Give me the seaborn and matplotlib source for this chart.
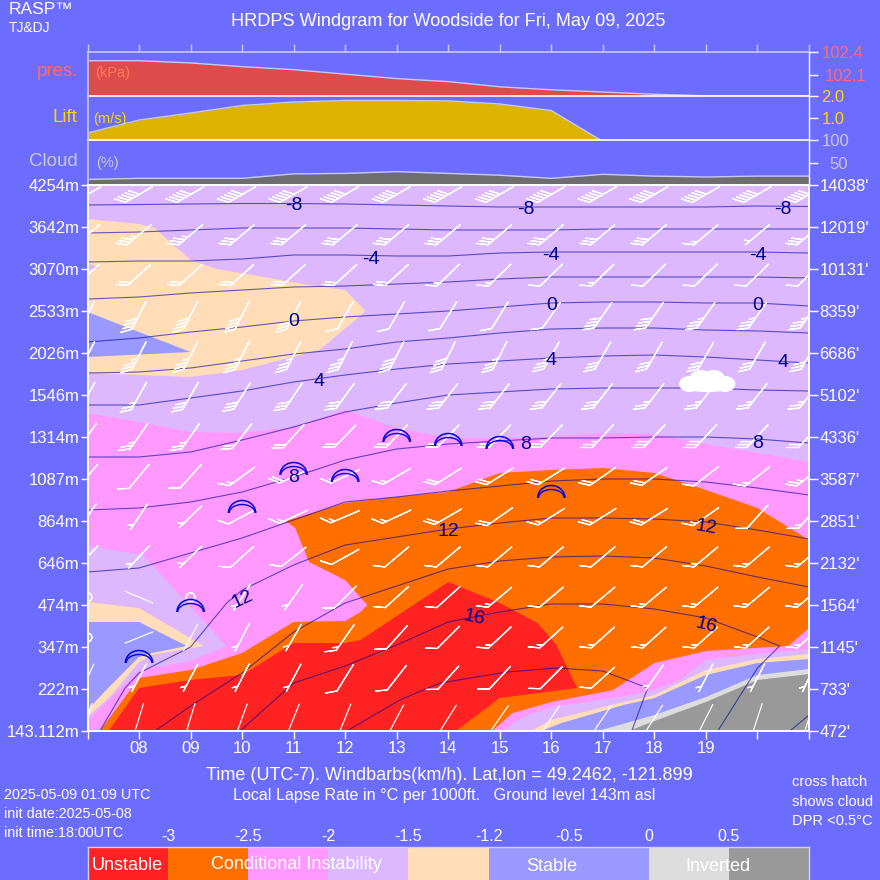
import numpy as np
import matplotlib
matplotlib.use('Agg')
import matplotlib.pyplot as plt
from matplotlib.colors import ListedColormap
from matplotlib.patches import Arc, Ellipse
import seaborn as sns

# Time axis
hours = [7, 8, 9, 10, 11, 12, 13, 14, 15, 16, 17, 18, 19, 20, 21]
hour_labels = ['', '08', '09', '10', '11', '12', '13', '14', '15', '16', '17', '18', '19', '', '']

# Height scale, one tick every 42 units
height_labels_m = ['143.112m', '222m', '347m', '474m', '646m', '864m', '1087m', '1314m',
                   '1546m', '2026m', '2533m', '3070m', '3642m', '4254m']
height_labels_ft = ["472'", "733'", "1145'", "1564'", "2132'", "2851'", "3587'", "4336'",
                    "5102'", "6686'", "8359'", "10131'", "12019'", "14038'"]

# Top strips
pressure = [102.29, 102.29, 102.26, 102.21, 102.17, 102.11, 102.05, 102.01,
            101.94, 101.90, 101.87, 101.84, 101.82, 101.82, 101.82]
lift_hours = [7, 8, 9, 10, 11, 12, 13, 14, 15, 16, 16.97, 21]
lift = [0.34, 0.93, 1.25, 1.59, 1.75, 1.82, 1.82, 1.80, 1.66, 1.36, 0, 0]
cloud = [12.5, 15, 15, 15, 25, 26, 30, 26, 22, 15, 24, 20, 18, 20, 20]

# Lapse rate regions (hour, level), painted back to front
pink_h = [7, 8, 9, 10, 11, 12, 13, 14, 15, 16, 17, 18, 19, 20, 21, 21, 7]
pink_l = [318, 309, 299, 298, 304, 321, 303, 293, 293, 294, 298, 297, 287, 278, 269, 0, 0]
peach_top_h = [7, 8, 8.3, 9, 9.5, 10.2, 11.3, 12, 12.4, 11.5, 10, 9, 7]
peach_top_l = [512, 507, 503, 471, 462, 456, 446, 441, 420, 381, 361, 354, 358]
blue_top_h = [7, 9, 7]
blue_top_l = [419, 379, 374]
sliver_h = [7, 7.25, 7]
sliver_l = [468, 463, 461]
lav_left_h = [7, 8.07, 9.7, 9, 8, 7.55, 7]
lav_left_l = [185, 176, 85, 70, 61, 38, 10]
peach_left_h = [7, 8, 9.25, 8.25, 8, 7.45, 7]
peach_left_l = [129, 123, 85, 76, 69, 35, 14]
blue_left_h = [7, 8, 8.93, 8.25, 8, 7.4, 7]
blue_left_l = [109, 109, 85, 78, 74, 43, 21]
lav_right_h = [15.05, 15.45, 16, 17.35, 18, 18.5, 19, 20, 21, 21]
lav_right_l = [0, 14, 24, 34, 41, 51, 71, 77, 82, 0]
peach_right_h = [15.6, 16, 17.4, 18, 19, 20, 21, 21]
peach_right_l = [0, 11, 29, 36, 61, 72, 77, 0]
blue_right_h = [15.8, 16.2, 17.4, 18, 19, 20, 21, 21]
blue_right_l = [0, 8, 26, 33, 56, 68, 72, 0]
lgrey_h = [16.9, 18, 19, 20, 21, 21]
lgrey_l = [0, 16, 34, 56, 62, 0]
grey_h = [17.5, 18, 19, 20, 21, 21]
grey_l = [0, 10, 29, 51, 57, 0]
orange_h = [7.24, 8, 9, 10, 11, 12, 12.3, 12.43, 12, 11.3, 11.03, 10.85, 12, 13, 14, 15, 16, 17, 18, 19, 20, 21,
            21, 20.6, 19, 18, 17.2, 16, 15.25, 14.85]
orange_l = [0, 53, 61, 78, 109, 110, 119, 126, 151, 169, 203, 210, 228, 234, 239, 258, 261, 263, 258, 241, 223, 191,
            103, 85, 80, 68, 41, 29, 18, 0]
red_h = [7.41, 8, 9, 10, 11, 12, 12.3, 14, 15, 15.73, 16.1, 16.5, 15, 14.15]
red_l = [0, 43, 51, 56, 88, 88, 91, 149, 128, 108, 86, 43, 33, 0]

# Temperature isotherms, every 2 degrees
iso_hours = hours
iso_m8 = [526, 526.5, 527, 527.5, 527.5, 527, 526, 525, 524, 524, 524, 524, 524, 525, 524.5]
iso_m6 = [498, 499, 501, 503, 503, 503, 502, 501, 501, 501, 502, 502, 502, 502, 502]
iso_m4 = [469, 470, 470, 472, 476, 476, 475, 475, 478, 479, 479, 479, 479, 479, 478]
iso_m2 = [432, 434, 438, 441, 444, 445, 447, 449, 452, 454, 454, 454, 454, 454, 453]
iso_0 = [389, 393, 399, 404, 410, 414, 417, 420, 424, 428, 429, 429, 428, 428, 425]
iso_2 = [358, 359, 363, 370, 377, 382, 389, 393, 398, 402, 403, 403, 401, 400, 398]
iso_4 = [326, 326, 333, 340, 349, 356, 362, 367, 370, 373, 375, 376, 374, 371, 368]
iso_6 = [274, 274, 279, 291, 304, 319, 328, 336, 339, 342, 343, 343, 343, 341, 340]
iso_8 = [221, 223, 229, 239, 254, 271, 282, 287, 290, 293, 293, 294, 294, 292, 288]
iso_10 = [159, 163, 178, 193, 211, 229, 234, 240, 245, 250, 252, 252, 249, 243, 236]
iso_12_h = [7.24, 7.73, 8, 9, 9.7, 10, 11, 12, 13, 14, 15, 16, 17, 18, 19, 20, 21]
iso_12 = [0, 43, 58, 84, 128, 141, 166, 186, 194, 202, 208, 213, 213, 212, 209, 201, 192]
iso_14_h = [8.31, 9, 10, 11, 12, 13, 14, 15, 16, 17, 18, 19, 20, 21]
iso_14 = [0, 25, 58, 99, 128, 145, 162, 170, 174, 175, 173, 165, 154, 144]
iso_16_h = [9.96, 11, 12, 13, 14, 15, 16, 17, 18, 19, 20, 20.43, 20, 19.23]
iso_16 = [0, 48, 65, 86, 109, 119, 127, 127, 122, 113, 94, 85, 63, 0]
iso_18_h = [12.03, 13.06, 13.84, 15.14, 16.1, 17, 17.87, 17.56]
iso_18 = [0, 31, 48, 59, 63, 60, 43, 0]
iso_20_h = [20.63, 21]
iso_20 = [0, 16]

iso_label_text = ['-8', '-8', '-8', '-4', '-4', '-4', '0', '0', '0', '4', '4', '4',
                  '8', '8', '8', '12', '12', '12', '16', '16']
iso_label_h = [11, 15.5, 20.5, 12.5, 16, 20, 11, 16, 20, 11.5, 16, 20.5,
               11, 15.5, 20, 10, 14, 19, 14.5, 19]
iso_label_l = [525, 522, 522, 472, 475, 475, 409, 426, 426, 350, 371, 369,
               254, 287, 288, 132, 199, 204, 113, 106]
iso_label_rot = [0, 0, 0, 0, 0, 0, 0, 0, 0, 0, 0, 0, 0, 0, 0, 25, 0, -10, -12, -15]

# Thermal symbols
thermal_h = [8, 9, 10, 11, 12, 13, 14, 15, 16]
thermal_l = [68, 119, 218, 256, 249, 289, 285, 282, 233]

# Wind, rows from top to bottom, km/h (2 = staff only, 0 = calm)
speed = [
    [50, 50, 50, 50, 50, 50, 50, 50, 50, 50, 50, 50, 50, 50, 50],
    [40, 35, 35, 30, 30, 30, 30, 30, 30, 30, 30, 30, 15, 5, 30],
    [20, 20, 20, 20, 20, 20, 20, 15, 15, 10, 15, 10, 10, 10, 10],
    [40, 40, 40, 40, 30, 10, 10, 10, 10, 10, 40, 40, 35, 35, 35],
    [35, 35, 35, 35, 35, 35, 40, 40, 35, 35, 30, 30, 30, 30, 30],
    [30, 25, 30, 30, 30, 30, 30, 30, 30, 30, 30, 25, 25, 25, 25],
    [25, 25, 25, 20, 20, 20, 20, 20, 25, 25, 25, 30, 30, 30, 20],
    [10, 10, 10, 15, 20, 15, 15, 20, 20, 20, 20, 20, 10, 15, 25],
    [5, 5, 5, 10, 15, 15, 15, 20, 20, 15, 20, 20, 15, 10, 15],
    [5, 5, 5, 10, 10, 10, 10, 10, 10, 10, 10, 10, 15, 15, 15],
    [0, 2, 0, 5, 5, 10, 10, 10, 15, 10, 10, 15, 15, 15, 15],
    [0, 2, 2, 5, 5, 15, 10, 10, 15, 15, 15, 15, 15, 15, 15],
    [2, 5, 5, 5, 5, 10, 10, 10, 10, 10, 10, 5, 5, 5, 5],
    [2, 2, 2, 2, 2, 2, 2, 2, 2, 2, 2, 2, 2, 2, 2],
]
direction = [
    [240, 240, 240, 240, 240, 240, 240, 240, 240, 240, 240, 240, 240, 240, 240],
    [230, 230, 230, 230, 230, 230, 230, 230, 230, 230, 230, 230, 230, 230, 230],
    [228, 228, 228, 228, 228, 228, 228, 226, 226, 226, 226, 226, 226, 226, 226],
    [207, 207, 207, 207, 207, 210, 210, 212, 212, 215, 215, 215, 215, 215, 215],
    [207, 207, 207, 207, 207, 207, 207, 207, 207, 210, 210, 210, 210, 210, 210],
    [209, 209, 210, 212, 214, 216, 218, 218, 218, 218, 218, 218, 218, 218, 218],
    [215, 215, 215, 218, 222, 224, 224, 224, 224, 224, 223, 223, 223, 223, 223],
    [220, 220, 222, 234, 245, 245, 240, 238, 238, 238, 235, 235, 232, 232, 232],
    [214, 214, 226, 242, 245, 247, 245, 240, 235, 238, 238, 238, 235, 222, 222],
    [223, 223, 226, 228, 232, 241, 230, 230, 230, 230, 230, 230, 230, 230, 230],
    [212, 113, 212, 212, 215, 225, 228, 228, 230, 230, 230, 230, 230, 230, 230],
    [205, 248, 208, 207, 210, 215, 222, 225, 227, 228, 228, 228, 228, 228, 228],
    [205, 208, 208, 207, 208, 212, 218, 222, 223, 225, 228, 215, 207, 207, 205],
    [197, 197, 197, 200, 202, 202, 208, 212, 215, 213, 214, 213, 207, 198, 198],
]

# Legend strip
legend_ticks = ['-3', '-2.5', '-2', '-1.5', '-1.2', '-0.5', '0', '0.5']
legend_classes = [0, 1, 2, 3, 4, 5, 5, 6, 7]

BG = '#6C6CFF'
RED, ORANGE, PINK, LAV = '#FF2222', '#FF6F00', '#FF99FF', '#DDB8FF'
PEACH, BLUE, LGREY, GREY = '#FFDDB8', '#9999FF', '#DDDDDD', '#999999'
SALMON, GOLD, SILVER = '#FF6B6B', '#FFD700', '#C8C8C8'
EDGE = '#C8C8FF'
ISO = '#0000A0'
DARK = '#000090'

sns.set_theme(style='white')
plt.rcParams['font.family'] = ['Liberation Sans', 'DejaVu Sans']

fig = plt.figure(figsize=(8.8, 8.8), dpi=100, facecolor=BG)


def panel(top, bottom):
    # axes box from pixel rows
    return fig.add_axes([87.5 / 880, 1 - bottom / 880, 721.5 / 880, (bottom - top) / 880])


def ftext(x, y, s, **kw):
    kw.setdefault('color', 'white')
    kw.setdefault('va', 'center')
    fig.text(x / 880, 1 - y / 880, s, **kw)


ax_p = panel(52.5, 96.5)
ax_l = panel(96.5, 140.5)
ax_c = panel(140.5, 185)
ax = panel(185, 731)

strips = [(ax_p, hours, pressure, '#DD4B4B', (101.81, 102.4), [102.4, 102.1], ['102.4', '102.1'], SALMON),
          (ax_l, lift_hours, lift, '#DCB400', (0, 2), [2, 1], ['2.0', '1.0'], GOLD),
          (ax_c, hours, cloud, '#6E6E6E', (0, 100), [100, 50], ['100', '50'], SILVER)]
for a, xs, ys, col, lim, ticks, labels, tcol in strips:
    a.set_facecolor('none')
    a.fill_between(xs, lim[0], ys, color=col, lw=0)
    sns.lineplot(x=xs, y=ys, color=EDGE, lw=1, ax=a, estimator=None, sort=False)
    a.set_xlim(7, 21)
    a.set_ylim(*lim)
    a.set_xticks([])
    a.yaxis.tick_right()
    a.set_yticks(ticks)
    a.set_yticklabels(labels, color=tcol, fontsize=12)
    a.tick_params(axis='y', length=6.5, width=1, color='white', pad=2.5, left=False, right=True)
    a.set_xlabel('')
    a.set_ylabel('')
    for s in a.spines.values():
        s.set_visible(False)
    a.spines['left'].set_visible(True)
    a.spines['left'].set_color(EDGE)
    a.spines['left'].set_linewidth(1.2)
    a.spines['right'].set_visible(True)
    a.spines['right'].set_color('white')
    a.spines['right'].set_linewidth(1)
    a.spines['bottom'].set_visible(True)
    a.spines['bottom'].set_color('white')
    a.spines['bottom'].set_linewidth(1.2)

# tick marks on the top edge
ax_p.spines['top'].set_visible(True)
ax_p.spines['top'].set_color(EDGE)
ax_p.spines['top'].set_linewidth(1.2)
ax_p.xaxis.tick_top()
ax_p.set_xticks(hours)
ax_p.set_xticklabels([])
ax_p.tick_params(axis='x', length=6, width=1, color=EDGE, top=True)
ax_c.yaxis.get_major_ticks()[1].set_pad(8)
ax_p.yaxis.get_major_ticks()[1].set_pad(5)

# main windgram
ax.set_facecolor(LAV)
layers = [(pink_h, pink_l, PINK), (peach_top_h, peach_top_l, PEACH), (blue_top_h, blue_top_l, BLUE),
          (sliver_h, sliver_l, LAV), (lav_left_h, lav_left_l, LAV), (peach_left_h, peach_left_l, PEACH),
          (blue_left_h, blue_left_l, BLUE), (lav_right_h, lav_right_l, LAV), (peach_right_h, peach_right_l, PEACH),
          (blue_right_h, blue_right_l, BLUE), (lgrey_h, lgrey_l, LGREY), (grey_h, grey_l, GREY),
          (orange_h, orange_l, ORANGE), (red_h, red_l, RED)]
for xs, ys, col in layers:
    ax.fill(xs, ys, color=col, lw=0)

isolines = [(iso_hours, iso_m8), (iso_hours, iso_m6), (iso_hours, iso_m4), (iso_hours, iso_m2), (iso_hours, iso_0),
            (iso_hours, iso_2), (iso_hours, iso_4), (iso_hours, iso_6), (iso_hours, iso_8), (iso_hours, iso_10),
            (iso_12_h, iso_12), (iso_14_h, iso_14), (iso_16_h, iso_16), (iso_18_h, iso_18), (iso_20_h, iso_20)]
for xs, ys in isolines:
    sns.lineplot(x=xs, y=ys, color=ISO, lw=0.8, alpha=0.6, ax=ax, estimator=None, sort=False)

for s, xh, yl, rot in zip(iso_label_text, iso_label_h, iso_label_l, iso_label_rot):
    ax.text(xh, yl, s, color=DARK, fontsize=14, ha='center', va='center', rotation=rot, zorder=6)

# wind barbs
spd = np.array(speed, dtype=float)
wdir = np.radians(np.array(direction, dtype=float))
barb_rows = np.linspace(536.5, 13, len(speed))
X, Y = np.meshgrid(hours, barb_rows)
feathered = spd != 2
ax.barbs(X[feathered], Y[feathered], (-spd * np.sin(wdir))[feathered], (-spd * np.cos(wdir))[feathered],
         length=6.7, pivot='middle', barbcolor='white', flagcolor='white', linewidth=0.9, zorder=4,
         fill_empty=False, barb_increments=dict(half=5, full=10, flag=500),
         sizes=dict(spacing=0.13, height=0.27, width=0.5, emptybarb=0.14))
staff = spd == 2
ax.quiver(X[staff], Y[staff], (-31 * np.sin(wdir))[staff], (-31 * np.cos(wdir))[staff],
          angles='uv', scale_units='dots', scale=1, units='dots', width=1.2, pivot='mid',
          headwidth=1, headlength=0, headaxislength=0, color='white', zorder=4)

# thermal arcs
for xh, yl in zip(thermal_h, thermal_l):
    ax.add_patch(Arc((xh, yl), 0.53, 25, theta1=0, theta2=180, color='#0000E0', lw=1.1, zorder=5))
    ax.add_patch(Arc((xh, yl), 0.50, 17, theta1=0, theta2=180, color='#0000E0', lw=1.0, zorder=5))

# cloud symbol
cloud_h = [18.68, 18.9, 19.15, 19.37, 19.02]
cloud_l = [347, 351, 351, 347, 344]
cloud_w = [0.40, 0.46, 0.46, 0.40, 1.0]
cloud_t = [16, 20, 20, 16, 10]
for xh, yl, w, t in zip(cloud_h, cloud_l, cloud_w, cloud_t):
    ax.add_patch(Ellipse((xh, yl), w, t, color='white', lw=0, zorder=5))

ax.set_xlim(7, 21)
ax.set_ylim(0, 546)
ax.set_xticks(hours)
ax.set_xticklabels(hour_labels, color='white', fontsize=12)
ax.set_yticks(np.arange(0, 547, 42))
ax.set_yticklabels(height_labels_m, color='white', fontsize=12)
ax.set_xlabel('')
ax.set_ylabel('')
ax.tick_params(axis='x', length=5.5, width=1, color='white', bottom=True, pad=1.5)
ax.tick_params(axis='y', length=5, width=1, color='white', left=True, pad=1)
for s in ax.spines.values():
    s.set_visible(True)
    s.set_color('white')
    s.set_linewidth(1.4)

ax_r = ax.twinx()
ax_r.set_ylim(0, 546)
ax_r.set_yticks(np.arange(0, 547, 42))
ax_r.set_yticklabels(height_labels_ft, color='white', fontsize=12)
ax_r.tick_params(axis='y', length=6.5, width=1, color='white', right=True, pad=1)
ax_r.grid(False)
for s in ax_r.spines.values():
    s.set_visible(False)

# legend strip
leg = fig.add_axes([88 / 880, 0, 721 / 880, 33 / 880])
legend_colors = [RED, ORANGE, PINK, LAV, PEACH, BLUE, LGREY, GREY]
sns.heatmap(np.array([legend_classes]), cmap=ListedColormap(legend_colors), vmin=-0.5, vmax=7.5,
            cbar=False, ax=leg, xticklabels=False, yticklabels=False)
leg.xaxis.tick_top()
leg.set_xticks(np.arange(1, 9))
leg.set_xticklabels(legend_ticks, color='white', fontsize=11.5, rotation=0)
leg.tick_params(axis='x', length=0, pad=2)
for side in ('top', 'left', 'right'):
    leg.spines[side].set_visible(True)
    leg.spines[side].set_color('#D0D0FF')
    leg.spines[side].set_linewidth(1)

# free text
ftext(448.5, 22, 'HRDPS Windgram for Woodside for Fri, May 09, 2025', fontsize=13.1, ha='center')
ftext(9, 9, 'RASP\u2122', fontsize=12.5, ha='left')
ftext(9, 28, 'TJ&DJ', fontsize=10, ha='left')
ftext(78, 72, 'pres.', color=SALMON, fontsize=13.5, ha='right')
ftext(95, 73, '(kPa)', color='#FF7B5B', fontsize=10.5, ha='left')
ftext(77, 117, 'Lift', color=GOLD, fontsize=13.5, ha='right')
ftext(93, 119, '(m/s)', color=GOLD, fontsize=10.5, ha='left')
ftext(78, 161, 'Cloud', color=SILVER, fontsize=13.5, ha='right')
ftext(96, 163, '(%)', color=SILVER, fontsize=10.5, ha='left')
ftext(449, 775, 'Time (UTC-7). Windbarbs(km/h). Lat,lon = 49.2462, -121.899', fontsize=13, ha='center')
ftext(444, 795, 'Local Lapse Rate in \u00b0C per 1000ft.   Ground level 143m asl', fontsize=11.6, ha='center')
ftext(4, 795, '2025-05-09 01:09 UTC', fontsize=10.4, ha='left')
ftext(4, 814, 'init date:2025-05-08', fontsize=10.4, ha='left')
ftext(4, 833, 'init time:18:00UTC', fontsize=10.4, ha='left')
ftext(792, 782, 'cross hatch', fontsize=10.5, ha='left')
ftext(792, 802, 'shows cloud', fontsize=10.5, ha='left')
ftext(792, 821, 'DPR <0.5\u00b0C', fontsize=10.5, ha='left')
ftext(127, 865, 'Unstable', fontsize=13, ha='center')
ftext(296, 864, 'Conditional Instability', fontsize=13, ha='center')
ftext(552, 866, 'Stable', fontsize=13, ha='center')
ftext(718, 866, 'Inverted', fontsize=13, ha='center')

fig.savefig('out.png', dpi=100, facecolor=BG)
